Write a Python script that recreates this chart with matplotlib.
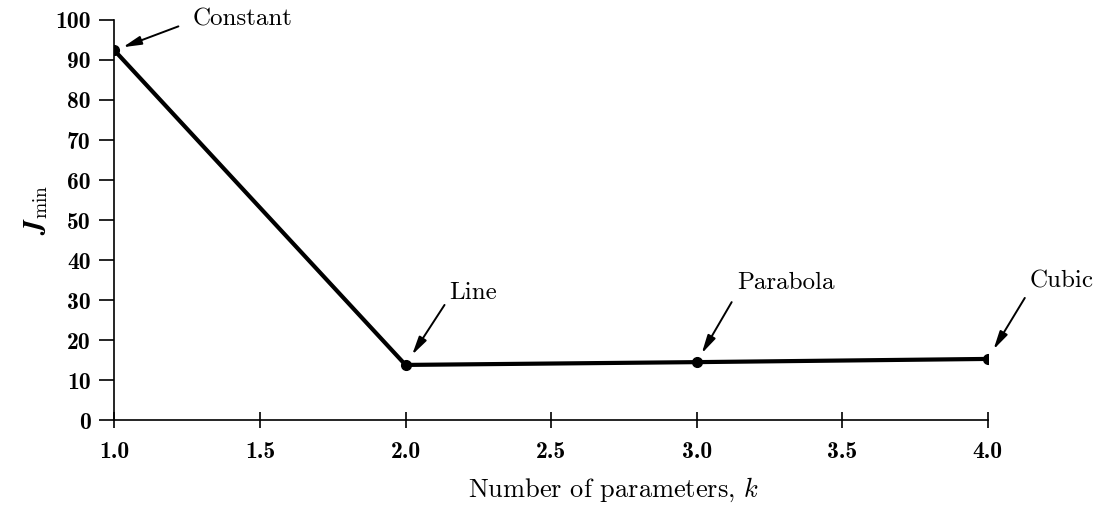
import matplotlib.pyplot as plt

# Data
num_params = [1.0, 2.0, 3.0, 4.0]
j_min = [92.4, 13.8, 14.5, 15.3]
fit_names = ['Constant', 'Line', 'Parabola', 'Cubic']

x_ticks = [1.0, 1.5, 2.0, 2.5, 3.0, 3.5, 4.0]
y_ticks = list(range(0, 101, 10))

# label placement (pixels from each point): arrow tail, arrow gap, text anchor
arrow_tail = [(64, 24), (39, 60), (35, 60), (37, 61)]
arrow_gap = [9, 12, 10, 11]
text_pos = [(78, 31), (44, 72), (41, 79), (42, 77)]

plt.rcParams['mathtext.fontset'] = 'cm'

fig = plt.figure(figsize=(11, 5.05), dpi=100)
ax = fig.add_axes([0.104, 0.168, 0.794, 0.7925])

ax.plot(num_params, j_min, color='black', lw=3.0, marker='o', markersize=7,
        solid_joinstyle='round')

for x, y, name, tail, gap, tpos in zip(num_params, j_min, fit_names,
                                        arrow_tail, arrow_gap, text_pos):
    ax.annotate('', xy=(x, y), xytext=tail, textcoords='offset pixels',
                arrowprops=dict(arrowstyle='-|>,head_length=1.1,head_width=0.26',
                                color='black', lw=1.4, shrinkA=0,
                                shrinkB=gap * 0.72))
    ax.annotate(name, xy=(x, y), xytext=tpos, textcoords='offset pixels',
                ha='left', va='center', fontsize=18, family='cmr10')

ax.set_xlim(1.0, 4.0)
ax.set_ylim(0, 100)
ax.set_xticks(x_ticks)
ax.set_xticklabels([f'{t:.1f}' for t in x_ticks], family='cmb10', fontsize=17)
ax.set_yticks(y_ticks)
ax.set_yticklabels([str(t) for t in y_ticks], family='cmb10', fontsize=17)

for side in ['top', 'right']:
    ax.spines[side].set_visible(False)
for side in ['left', 'bottom']:
    ax.spines[side].set_linewidth(1.2)

ax.tick_params(axis='y', direction='out', length=11, width=1.2, pad=6)
ax.tick_params(axis='x', direction='inout', length=12, width=1.2, pad=9)

ax.set_xlabel('Number of parameters, $k$', fontsize=19, family='cmr10',
              va='center')
ax.xaxis.set_label_coords(0.572, -0.175)
ax.set_ylabel(r'$\mathbfit{J}_{\mathrm{min}}$', fontsize=20, va='center')
ax.yaxis.set_label_coords(-0.09, 0.525)

fig.savefig('out.png', dpi=100)
